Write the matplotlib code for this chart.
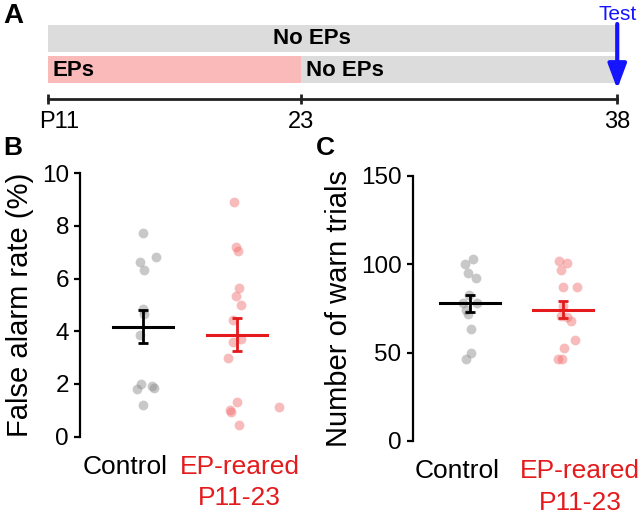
import matplotlib
matplotlib.use("Agg")
import matplotlib.pyplot as plt

plt.rcParams['font.family'] = ['Liberation Sans', 'DejaVu Sans']

# timeline (postnatal days)
t_start, t_switch, t_test = 11, 23, 38
t_labels = ['P11', '23', '38']

# groups
groups = ['Control', 'EP-reared\nP11-23']
group_colors = ['black', '#e41a1c']
dot_colors = ['#8c8c8c', '#f27070']

# B: false alarm rate (%)
fa_control = [7.73, 6.62, 6.82, 6.34, 4.85, 4.67, 3.85, 1.98, 1.82, 1.92, 1.86, 1.20]
fa_control_jit = [0, -0.025, 0.145, 0.018, 0, 0.018, -0.028, -0.021, -0.057, 0.103, 0.124, 0.007]
fa_ep = [8.90, 7.20, 7.06, 5.64, 5.35, 4.99, 4.44, 3.59, 3.69, 2.97, 1.31, 1.00, 0.93, 1.12, 0.45]
fa_ep_jit = [-0.025, -0.007, 0.011, 0.025, -0.007, 0.05, -0.035, -0.035, 0.043, -0.089,
             0.007, -0.071, -0.06, 0.454, 0.025]
fa_mean = [4.17, 3.87]
fa_sem = [0.62, 0.63]

# C: number of warn trials
wt_control = [102.9, 99.9, 94.8, 92.4, 82.6, 77.9, 78.0, 74.1, 71.8, 63.2, 49.6, 46.4]
wt_control_jit = [0.029, -0.054, -0.018, 0.064, -0.011, 0.079, -0.071, -0.046, -0.025, 0.007, 0.011, -0.046]
wt_ep = [102.0, 100.8, 96.7, 87.3, 87.3, 76.6, 70.7, 70.0, 68.1, 57.2, 52.4, 46.4, 46.4]
wt_ep_jit = [-0.043, 0.043, -0.021, 0, 0.15, 0, -0.029, 0.036, 0.082, 0.125, 0.011, -0.057, -0.011]
wt_mean = [77.8, 74.3]
wt_sem = [5.0, 5.0]

fig = plt.figure(figsize=(6.4, 5.15), dpi=100)

# ---- panel A: rearing timeline (y in pixels from the top) ----
axA = fig.add_axes([0, 375 / 515, 1, 140 / 515])
axA.set_xlim(8.723, 39.08)
axA.set_ylim(140, 0)
axA.axis('off')
axA.barh(38.3, t_test - t_start, left=t_start, height=26.7, color='#dcdcdc')
axA.barh(69.5, t_switch - t_start, left=t_start, height=27, color='#fbbaba')
axA.barh(69.5, t_test - t_switch, left=t_switch, height=27, color='#dcdcdc')
axA.text(23.5, 38.5, 'No EPs', ha='center', va='center', fontsize=16, fontweight='bold')
axA.text(t_start + 0.2, 70, 'EPs', ha='left', va='center', fontsize=16, fontweight='bold')
axA.text(t_switch + 0.25, 70, 'No EPs', ha='left', va='center', fontsize=16, fontweight='bold')
days = [t_start, t_switch, t_test]
axA.plot([t_start, t_test], [99.3, 99.3], color='#222222', lw=2)
axA.plot(days, [99.3] * 3, ls='none', marker='|', ms=7, mew=2, color='#222222')
axA.text(t_start - 0.4, 122, t_labels[0], ha='left', va='center', fontsize=17)
for d, lab in zip(days[1:], t_labels[1:]):
    axA.text(d, 122, lab, ha='center', va='center', fontsize=17)
axA.annotate('', xy=(t_test, 89), xytext=(t_test, 24),
             arrowprops=dict(arrowstyle='-|>,head_length=0.75,head_width=0.28',
                             color='#1414ff', lw=3, mutation_scale=20, shrinkA=0, shrinkB=0))
axA.text(t_test, 14, 'Test', ha='center', va='center', fontsize=15, color='#1414ff')


def dot_panel(ax, vals, jits, means, sems, ylim, yticks, ylabel, label_x, label_pos):
    for i in range(2):
        xs = [i + 1 + j for j in jits[i]]
        ax.scatter(xs, vals[i], s=50, color=dot_colors[i], alpha=0.47, lw=0, zorder=2)
        ax.plot([i + 1 - 0.32, i + 1 + 0.32], [means[i], means[i]],
                color=group_colors[i], lw=2.2, zorder=3)
        ax.errorbar(i + 1, means[i], yerr=sems[i], color=group_colors[i],
                    lw=2, capsize=3.5, capthick=2, zorder=3)
    ax.set_ylim(*ylim)
    ax.set_yticks(yticks)
    for s in ['top', 'right', 'bottom']:
        ax.spines[s].set_visible(False)
    ax.spines['left'].set_linewidth(1.6)
    ax.tick_params(axis='y', labelsize=17.5, width=1.6, length=4, pad=4)
    ax.set_xticks(label_pos)
    ax.set_xticklabels(groups, fontsize=19, linespacing=1.4)
    ax.tick_params(axis='x', length=0, pad=13)
    for t, c in zip(ax.get_xticklabels(), group_colors):
        t.set_color(c)
    ax.set_ylabel(ylabel, fontsize=21)
    ax.yaxis.set_label_coords(label_x, 0.5)


axB = fig.add_axes([0.125, 0.1522, 0.333, 0.5117])
axB.set_xlim(0.333, 2.60)
dot_panel(axB, [fa_control, fa_ep], [fa_control_jit, fa_ep_jit], fa_mean, fa_sem,
          (0, 10), [0, 2, 4, 6, 8, 10], 'False alarm rate (%)', -0.215, [0.81, 2.03])

axC = fig.add_axes([0.6448, 0.1437, 0.323, 0.515])
axC.set_xlim(0.386, 2.60)
dot_panel(axC, [wt_control, wt_ep], [wt_control_jit, wt_ep_jit], wt_mean, wt_sem,
          (0, 150), [0, 50, 100, 150], 'Number of warn trials', -0.29, [0.86, 2.18])

fig.text(3 / 640, 1 - 16 / 515, 'A', fontsize=20, fontweight='bold', va='center')
fig.text(3 / 640, 1 - 148 / 515, 'B', fontsize=19, fontweight='bold', va='center')
fig.text(316 / 640, 1 - 148 / 515, 'C', fontsize=19, fontweight='bold', va='center')

fig.savefig('out.png', dpi=100)
